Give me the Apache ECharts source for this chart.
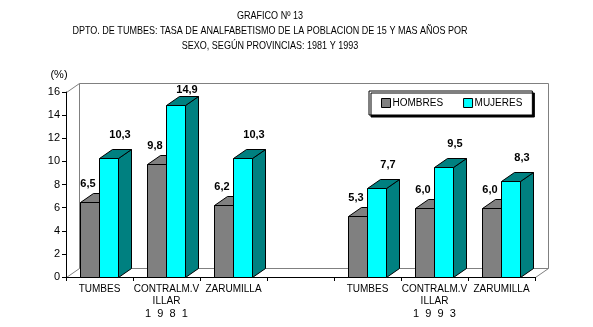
<!DOCTYPE html>
<html>
<head>
<meta charset="utf-8">
<script src="https://cdn.jsdelivr.net/npm/echarts@6/dist/echarts.min.js"></script>
<style>
  html, body { margin: 0; padding: 0; background: #ffffff; }
  #chart { width: 593px; height: 327px; }
</style>
</head>
<body>
<div id="chart"></div>
<script>
// Provinces (wrapped as printed), census years and illiteracy rates (%)
const provinces = ['TUMBES', 'CONTRALM.V\nILLAR', 'ZARUMILLA'];
const years = ['1981', '1993'];
const hombres1981 = [6.5, 9.8, 6.2];
const mujeres1981 = [10.3, 14.9, 10.3];
const hombres1993 = [5.3, 6.0, 6.0];
const mujeres1993 = [7.7, 9.5, 8.3];
const seriesNames = ['HOMBRES', 'MUJERES'];
const titleLines = [
  'GRAFICO Nº 13',
  'DPTO. DE TUMBES: TASA DE ANALFABETISMO DE LA POBLACION DE 15 Y MAS AÑOS POR',
  'SEXO, SEGÚN PROVINCIAS: 1981 Y 1993'
];

// Category slots: three provinces, an empty spacer, three provinces again.
// The year (digits spread apart) is printed under the middle province of each block.
const spread = y => '{yr|' + y.split('').join('  ') + '}';
const categoryLabels = [
  ...provinces.map((p, i) => (i === 1 ? p + '\n' + spread(years[0]) : p)),
  '',
  ...provinces.map((p, i) => (i === 1 ? p + '\n' + spread(years[1]) : p))
];
const slot1993 = provinces.length + 1;
const hombresData = hombres1981.map((v, i) => [i, v])
  .concat(hombres1993.map((v, i) => [slot1993 + i, v]));
const mujeresData = mujeres1981.map((v, i) => [i, v])
  .concat(mujeres1993.map((v, i) => [slot1993 + i, v]));

// Oblique depth of the 3-D box
const DX = 13, DY = -9;
const BAR_W = 19;
const SANS = '"Liberation Sans", Arial, sans-serif';
const LABEL_FONT = 'bold 11px ' + SANS;
const NARROW = 0.82; // horizontal squeeze for the condensed heading type
const TITLE_CENTER_X = 270;

const px = v => Math.round(v) + 0.5;
const fmt = v => v.toFixed(1).replace('.', ',');

// Back wall and floor outline of the 3-D plot box
function renderWalls(params) {
  const cs = params.coordSys;
  const x0 = px(cs.x), x1 = px(cs.x + cs.width);
  const y0 = px(cs.y), y1 = px(cs.y + cs.height);
  const line = (a, b, c, d) => ({
    type: 'line',
    shape: { x1: a, y1: b, x2: c, y2: d },
    style: { stroke: '#808080', lineWidth: 1 }
  });
  return {
    type: 'group',
    children: [
      { type: 'rect', shape: { x: x0 + DX, y: y0 + DY, width: x1 - x0, height: y1 - y0 },
        style: { fill: '#ffffff', stroke: '#808080', lineWidth: 1 } },
      line(x0, y0, x0 + DX, y0 + DY),
      line(x0, y1, x0 + DX, y1 + DY),
      line(x1, y1, x1 + DX, y1 + DY)
    ]
  };
}

// One 3-D bar: front face, top face, side face and its value label
function barRenderer(kind, frontColor, topColor, sideColor) {
  return function (params, api) {
    const idx = api.value(0);
    const val = api.value(1);
    const base = api.coord([idx, 0]);
    const head = api.coord([idx, val]);
    const cx = base[0];
    const xl = px(cx + (kind === 0 ? -20 : -1));
    const xr = xl + BAR_W;
    const yb = px(base[1]);
    const yt = px(head[1]);
    const stroke = { stroke: '#000000', lineWidth: 1 };
    const side = {
      type: 'polygon',
      shape: { points: [[xr, yt], [xr + DX, yt + DY], [xr + DX, yb + DY], [xr, yb]] },
      style: Object.assign({ fill: sideColor }, stroke)
    };
    const top = {
      type: 'polygon',
      shape: { points: [[xl, yt], [xr, yt], [xr + DX, yt + DY], [xl + DX, yt + DY]] },
      style: Object.assign({ fill: topColor }, stroke)
    };
    const front = {
      type: 'rect',
      shape: { x: xl, y: yt, width: BAR_W, height: yb - yt },
      style: Object.assign({ fill: frontColor }, stroke)
    };
    const lx = kind === 0 ? xl + BAR_W / 2 - 2 : xl + BAR_W / 2 + 11;
    const ly = Math.max(yt - (kind === 0 ? 19 : 24), params.coordSys.y - 2);
    const label = {
      type: 'text',
      style: {
        text: fmt(val), x: lx, y: ly,
        align: 'center', verticalAlign: 'middle',
        font: LABEL_FONT, fill: '#000000'
      },
      z2: 10
    };
    return { type: 'group', children: [side, top, front, label] };
  };
}

const chart = echarts.init(document.getElementById('chart'), null, { renderer: 'canvas' });

chart.setOption({
  animation: false,
  backgroundColor: '#ffffff',
  legend: {
    data: seriesNames,
    left: 369,
    top: 91,
    orient: 'horizontal',
    itemWidth: 9,
    itemHeight: 9,
    itemGap: 20,
    padding: [7, 10, 7, 12],
    icon: 'rect',
    backgroundColor: '#ffffff',
    borderColor: '#000000',
    borderWidth: 1,
    borderRadius: 0,
    shadowColor: '#000000',
    shadowBlur: 0,
    shadowOffsetX: 2,
    shadowOffsetY: 2,
    itemStyle: { borderColor: '#000000', borderWidth: 1 },
    textStyle: { fontFamily: SANS, fontSize: 10, color: '#000000', padding: [0, 0, 0, -3] }
  },
  grid: { left: 66, right: 58, top: 92, bottom: 50, containLabel: false },
  graphic: [
    ...titleLines.map((t, i) => ({
      type: 'text',
      x: TITLE_CENTER_X,
      y: 16 + i * 15,
      scaleX: NARROW,
      style: {
        text: t, x: 0, y: 0, align: 'center', verticalAlign: 'middle',
        font: '11px ' + SANS, fill: '#000000'
      }
    })),
    {
      type: 'text',
      x: 59,
      y: 75,
      style: { text: '(%)', align: 'center', verticalAlign: 'middle', font: '11px ' + SANS, fill: '#000000' }
    }
  ],
  xAxis: {
    type: 'category',
    data: categoryLabels,
    boundaryGap: true,
    axisLine: { show: true, lineStyle: { color: '#000000', width: 1 } },
    axisTick: { show: true, interval: 0, length: 4, lineStyle: { color: '#000000' } },
    axisLabel: {
      interval: 0, margin: 6,
      fontFamily: SANS, fontSize: 10, color: '#000000', lineHeight: 12,
      formatter: (value, index) => categoryLabels[index],
      rich: {
        yr: { fontFamily: SANS, fontSize: 11, color: '#000000', lineHeight: 14 }
      }
    },
    splitLine: { show: false }
  },
  yAxis: {
    type: 'value',
    min: 0,
    max: 16,
    interval: 2,
    axisLine: { show: true, lineStyle: { color: '#000000', width: 1 } },
    axisTick: { show: true, length: 4, lineStyle: { color: '#000000' } },
    axisLabel: { margin: 6, fontFamily: SANS, fontSize: 11, color: '#000000' },
    splitLine: { show: false }
  },
  series: [
    {
      type: 'custom',
      name: 'walls',
      silent: true,
      z: 0,
      renderItem: renderWalls,
      data: [[0, 0]],
      encode: { x: 0, y: 1 }
    },
    {
      type: 'custom',
      name: seriesNames[0],
      z: 2,
      itemStyle: { color: '#808080', borderColor: '#000000', borderWidth: 1 },
      renderItem: barRenderer(0, '#808080', '#808080', '#808080'),
      data: hombresData,
      encode: { x: 0, y: 1 }
    },
    {
      type: 'custom',
      name: seriesNames[1],
      z: 3,
      itemStyle: { color: '#00ffff', borderColor: '#000000', borderWidth: 1 },
      renderItem: barRenderer(1, '#00ffff', '#008080', '#008080'),
      data: mujeresData,
      encode: { x: 0, y: 1 }
    }
  ]
});
</script>
</body>
</html>
